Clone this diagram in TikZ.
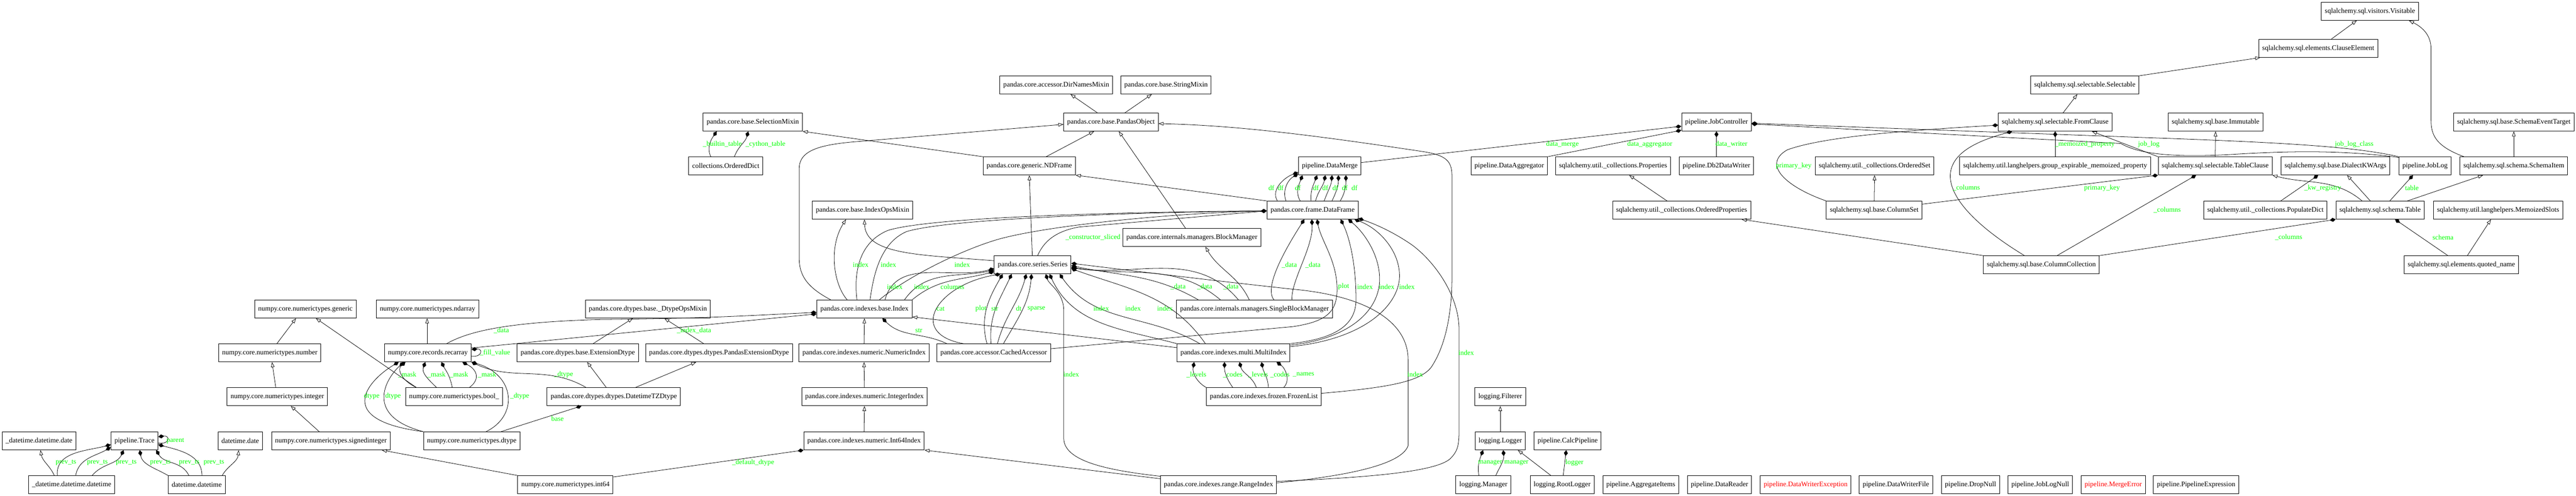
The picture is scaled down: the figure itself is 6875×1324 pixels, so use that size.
\documentclass[tikz,border=0pt]{standalone}
\usepackage{fontspec}
\setmainfont{Liberation Serif}
\usetikzlibrary{arrows.meta}
\definecolor{lblgreen}{RGB}{0,255,0}
\definecolor{errred}{RGB}{255,0,0}
\tikzset{
  cls/.style={draw=black, line width=1pt, minimum height=36pt, inner xsep=7pt, inner ysep=2pt, font=\fontsize{14pt}{16pt}\selectfont},
  errcls/.style={cls, text=errred},
  lbl/.style={text=lblgreen, inner sep=0pt, font=\fontsize{14pt}{16pt}\selectfont},
  inh/.style={line width=0.8pt, -{Triangle[open, length=10pt, width=7pt, line width=0.8pt]}},
  comp/.style={line width=0.8pt, -{Diamond[length=12pt, width=8pt]}},
}
\begin{document}
\begin{tikzpicture}[x=0.75pt, y=0.75pt]
\useasboundingbox (0,0) rectangle (6875,-1324);
% ---------------- nodes ----------------
\node[cls] (visitable) at (6325,-30) {sqlalchemy.sql.visitors.Visitable};
\node[cls] (clauseel) at (6187,-129) {sqlalchemy.sql.elements.ClauseElement};
\node[cls] (dirnames) at (2819,-227) {pandas.core.accessor.DirNamesMixin};
\node[cls] (stringmixin) at (3112,-227) {pandas.core.base.StringMixin};
\node[cls] (selectable) at (5564,-227) {sqlalchemy.sql.selectable.Selectable};
\node[cls] (selmixin) at (2009,-326) {pandas.core.base.SelectionMixin};
\node[cls] (pandasobj) at (2965,-326) {pandas.core.base.PandasObject};
\node[cls] (jobctl) at (4581,-326) {pipeline.JobController};
\node[cls] (fromclause) at (5485,-326) {sqlalchemy.sql.selectable.FromClause};
\node[cls] (immutable) at (5913,-326) {sqlalchemy.sql.base.Immutable};
\node[cls] (schemaevt) at (6709,-326) {sqlalchemy.sql.base.SchemaEventTarget};
\node[cls] (odict) at (1937,-443) {collections.OrderedDict};
\node[cls] (ndframe) at (2747,-443) {pandas.core.generic.NDFrame};
\node[cls] (datamerge) at (3549,-443) {pipeline.DataMerge};
\node[cls] (dataagg) at (4028,-443) {pipeline.DataAggregator};
\node[cls] (props) at (4305,-443) {sqlalchemy.util.\_collections.Properties};
\node[cls] (db2) at (4581,-443) {pipeline.Db2DataWriter};
\node[cls] (orderedset) at (5003,-443) {sqlalchemy.util.\_collections.OrderedSet};
\node[cls] (gemp) at (5485,-443) {sqlalchemy.util.langhelpers.group\_expirable\_memoized\_property};
\node[cls] (tableclause) at (5912,-443) {sqlalchemy.sql.selectable.TableClause};
\node[cls] (dialect) at (6233,-443) {sqlalchemy.sql.base.DialectKWArgs};
\node[cls] (joblog) at (6472,-443) {pipeline.JobLog};
\node[cls] (schemaitem) at (6709,-443) {sqlalchemy.sql.schema.SchemaItem};
\node[cls] (indexops) at (2302,-561) {pandas.core.base.IndexOpsMixin};
\node[cls] (dataframe) at (3503,-561) {pandas.core.frame.DataFrame};
\node[cls] (oprops) at (4488,-561) {sqlalchemy.util.\_collections.OrderedProperties};
\node[cls] (columnset) at (5002,-561) {sqlalchemy.sql.base.ColumnSet};
\node[cls] (populate) at (6046,-561) {sqlalchemy.util.\_collections.PopulateDict};
\node[cls] (table) at (6352,-561) {sqlalchemy.sql.schema.Table};
\node[cls] (memslots) at (6667,-561) {sqlalchemy.util.langhelpers.MemoizedSlots};
\node[cls] (blockmgr) at (3181,-634) {pandas.core.internals.managers.BlockManager};
\node[cls] (series) at (2756,-707) {pandas.core.series.Series};
\node[cls] (colcoll) at (5448,-707) {sqlalchemy.sql.base.ColumnCollection};
\node[cls] (quoted) at (6569,-707) {sqlalchemy.sql.elements.quoted\_name};
\node[cls] (generic) at (815,-825) {numpy.core.numerictypes.generic};
\node[cls] (ndarray) at (1141,-825) {numpy.core.numerictypes.ndarray};
\node[cls] (dtypeops) at (1729,-825) {pandas.core.dtypes.base.\_DtypeOpsMixin};
\node[cls] (index) at (2307,-825) {pandas.core.indexes.base.Index};
\node[cls] (sbm) at (3348,-825) {pandas.core.internals.managers.SingleBlockManager};
\node[cls] (number) at (720,-942) {numpy.core.numerictypes.number};
\node[cls] (recarray) at (1142,-942) {numpy.core.records.recarray};
\node[cls] (extdtype) at (1542,-942) {pandas.core.dtypes.base.ExtensionDtype};
\node[cls] (pandasext) at (1919,-942) {pandas.core.dtypes.dtypes.PandasExtensionDtype};
\node[cls] (numindex) at (2306,-942) {pandas.core.indexes.numeric.NumericIndex};
\node[cls] (cached) at (2652,-942) {pandas.core.accessor.CachedAccessor};
\node[cls] (multi) at (3292,-942) {pandas.core.indexes.multi.MultiIndex};
\node[cls] (integer) at (740,-1059) {numpy.core.numerictypes.integer};
\node[cls] (bool) at (1212,-1059) {numpy.core.numerictypes.bool\_};
\node[cls] (dttz) at (1638,-1059) {pandas.core.dtypes.dtypes.DatetimeTZDtype};
\node[cls] (intindex) at (2307,-1059) {pandas.core.indexes.numeric.IntegerIndex};
\node[cls] (frozen) at (3373,-1059) {pandas.core.indexes.frozen.FrozenList};
\node[cls] (filterer) at (4004,-1059) {logging.Filterer};
\node[cls] (dtdateU) at (104,-1177) {\_datetime.datetime.date};
\node[cls] (trace) at (359,-1177) {pipeline.Trace};
\node[cls] (dtdate) at (641,-1177) {datetime.date};
\node[cls] (signed) at (883,-1177) {numpy.core.numerictypes.signedinteger};
\node[cls] (dtype) at (1259,-1177) {numpy.core.numerictypes.dtype};
\node[cls] (int64index) at (2306,-1177) {pandas.core.indexes.numeric.Int64Index};
\node[cls] (logger) at (4004,-1177) {logging.Logger};
\node[cls] (calcpipe) at (4184,-1177) {pipeline.CalcPipeline};
\node[cls] (dtdtU) at (191,-1294) {\_datetime.datetime.datetime};
\node[cls] (dtdt) at (525,-1294) {datetime.datetime};
\node[cls] (int64) at (1509,-1294) {numpy.core.numerictypes.int64};
\node[cls] (rangeindex) at (3252,-1294) {pandas.core.indexes.range.RangeIndex};
\node[cls] (manager) at (3959,-1294) {logging.Manager};
\node[cls] (rootlogger) at (4169,-1294) {logging.RootLogger};
\node[cls] (aggitems) at (4379,-1294) {pipeline.AggregateItems};
\node[cls] (datareader) at (4589,-1294) {pipeline.DataReader};
\node[errcls] (dwexc) at (4819,-1294) {pipeline.DataWriterException};
\node[cls] (dwfile) at (5060,-1294) {pipeline.DataWriterFile};
\node[cls] (dropnull) at (5259,-1294) {pipeline.DropNull};
\node[cls] (joblognull) at (5445,-1294) {pipeline.JobLogNull};
\node[errcls] (mergeerr) at (5640,-1294) {pipeline.MergeError};
\node[cls] (pipeexpr) at (5861,-1294) {pipeline.PipelineExpression};
% ---------------- Trace group ----------------
\draw[inh] ([shift={(-46,0)}]dtdtU.north) to[out=115,in=-80] ([shift={(4,0)}]dtdateU.south);
\draw[comp] ([shift={(-38,0)}]dtdtU.north) to[out=95,in=195] ([shift={(0,-10)}]trace.west);
\draw[comp] ([shift={(11,0)}]dtdtU.north) to[out=80,in=210] ([shift={(0,-17)}]trace.west);
\draw[comp] ([shift={(55,0)}]dtdtU.north) to[out=50,in=-115] ([shift={(-29,0)}]trace.south);
\draw[comp] (dtdt.north west) to[out=150,in=-80] ([shift={(14,0)}]trace.south);
\draw[comp] ([shift={(-21,0)}]dtdt.north) to[out=115,in=-60] ([shift={(58,0)}]trace.south);
\draw[comp] ([shift={(14,0)}]dtdt.north) to[out=90,in=-15] ([shift={(0,-10)}]trace.east);
\draw[inh] ([shift={(68,0)}]dtdt.north) to[out=60,in=-95] ([shift={(-4,0)}]dtdate.south);
\draw[comp] ([shift={(0,-6)}]trace.east) .. controls +(32,-4) and +(32,4) .. ([shift={(0,11)}]trace.east);
% ---------------- numpy ----------------
\draw[inh] ([shift={(19,0)}]number.north) -- ([shift={(-25,0)}]generic.south);
\draw[inh] ([shift={(-4,0)}]integer.north) -- ([shift={(6,0)}]number.south);
\draw[inh] ([shift={(-31,0)}]signed.north) -- ([shift={(36,0)}]integer.south);
\draw[inh] (int64.north west) -- ([shift={(136,0)}]signed.south);
\draw[inh] ([shift={(-101,0)}]bool.north) -- ([shift={(28,0)}]generic.south);
\draw[inh] ([shift={(-2,0)}]recarray.north) -- ([shift={(-1,0)}]ndarray.south);
\draw[comp] ([shift={(0,-9)}]recarray.east) .. controls +(30,-3) and +(30,3) .. ([shift={(0,9)}]recarray.east);
\draw[comp] (dtype.north west) .. controls (880,-1120) and (990,-1010) .. ([shift={(-78,0)}]recarray.south);
\draw[comp] (dtype.north west) .. controls (970,-1110) and (1030,-1010) .. ([shift={(-64,0)}]recarray.south);
\draw[comp] ([shift={(-101,0)}]bool.north) .. controls (1070,-1015) and (1060,-985) .. ([shift={(-60,0)}]recarray.south);
\draw[comp] ([shift={(-47,0)}]bool.north) .. controls (1140,-1010) and (1125,-995) .. ([shift={(-7,0)}]recarray.south);
\draw[comp] ([shift={(-5,0)}]bool.north) .. controls (1200,-1000) and (1190,-990) .. ([shift={(36,0)}]recarray.south);
\draw[comp] ([shift={(41,0)}]bool.north) .. controls (1285,-1010) and (1270,-985) .. ([shift={(92,0)}]recarray.south);
\draw[comp] ([shift={(38,0)}]dtype.north) .. controls (1385,-1110) and (1375,-1000) .. (recarray.south east);
\draw[comp] ([shift={(-74,0)}]dttz.north) to[out=150,in=-25] (recarray.south east);
\draw[comp] ([shift={(78,0)}]dtype.north) -- ([shift={(-86,0)}]dttz.south);
\draw[inh] ([shift={(41,0)}]extdtype.north) -- ([shift={(-40,0)}]dtypeops.south);
\draw[inh] ([shift={(-41,0)}]pandasext.north) -- ([shift={(44,0)}]dtypeops.south);
\draw[inh] ([shift={(-20,0)}]dttz.north) -- ([shift={(25,0)}]extdtype.south);
\draw[inh] ([shift={(58,0)}]dttz.north) -- ([shift={(-61,0)}]pandasext.south);
\draw[comp] ([shift={(0,-4)}]int64.north east) -- (int64index.south west);
\draw[comp] ([shift={(50,0)}]recarray.north) .. controls (1250,-885) and (1350,-860) .. (1600,-853) .. controls (1900,-850) and (2000,-842) .. ([shift={(0,-9)}]index.west);
\draw[comp] ([shift={(0,13)}]recarray.east) -- ([shift={(0,-13)}]index.west);
\draw[comp] ([shift={(-125,0)}]cached.north) to[out=155,in=-45] ([shift={(48,0)}]index.south);
% ---------------- index chain ----------------
\draw[inh] (numindex.north) -- (index.south);
\draw[inh] (intindex.north) -- (numindex.south);
\draw[inh] (int64index.north) -- (intindex.south);
\draw[inh] ([shift={(0,16)}]rangeindex.west) -- (int64index.south east);
\draw[inh] ([shift={(0,14)}]multi.west) -- ([shift={(0,-21)}]index.east);
\draw[inh] ([shift={(-90,0)}]index.north) .. controls (2160,-770) and (2133,-740) .. (2133,-690) -- (2133,-450) .. controls (2133,-400) and (2190,-385) .. (2300,-377) -- ([shift={(0,-6)}]pandasobj.west);
\draw[inh] ([shift={(-46,0)}]index.north) .. controls (2225,-760) and (2210,-660) .. ([shift={(-44,0)}]indexops.south);
\draw[inh] ([shift={(0,11)}]series.west) .. controls (2450,-680) and (2310,-680) .. ([shift={(5,0)}]indexops.south);
\draw[inh] ([shift={(-1,0)}]series.north) -- (ndframe.south);
\draw[inh] (dataframe.north west) -- (ndframe.south east);
\draw[inh] ([shift={(45,0)}]ndframe.north) -- ([shift={(-45,0)}]pandasobj.south);
\draw[inh] (ndframe.north west) -- (selmixin.south east);
\draw[inh] ([shift={(-36,0)}]pandasobj.north) -- ([shift={(38,0)}]dirnames.south);
\draw[inh] ([shift={(37,0)}]pandasobj.north) -- ([shift={(-38,0)}]stringmixin.south);
\draw[comp] ([shift={(-40,0)}]odict.north) to[out=115,in=-125] ([shift={(-96,0)}]selmixin.south);
\draw[comp] ([shift={(23,0)}]odict.north) to[out=70,in=-105] ([shift={(-12,0)}]selmixin.south);
\draw[inh] ([shift={(-17,0)}]blockmgr.north) -- ([shift={(21,0)}]pandasobj.south);
\draw[inh] ([shift={(-14,0)}]sbm.north) to[out=115,in=-60] ([shift={(36,0)}]blockmgr.south);
\draw[inh] ([shift={(0,9)}]frozen.east) .. controls (3700,-1035) and (3790,-1020) .. (3820,-980) .. controls (3860,-920) and (3875,-830) .. (3875,-740) -- (3875,-470) .. controls (3875,-430) and (3860,-415) .. (3800,-405) .. controls (3500,-360) and (3300,-335) .. ([shift={(0,-4)}]pandasobj.east);
% ---------------- Series / DataFrame ----------------
\draw[comp] ([shift={(13,0)}]series.north) .. controls (2780,-660) and (2800,-620) .. (2880,-606) -- ([shift={(0,-2)}]dataframe.west);
\draw[comp] ([shift={(-20,0)}]index.north) .. controls (2280,-740) and (2285,-650) .. (2370,-615) .. controls (2500,-575) and (3100,-565) .. ([shift={(0,-2)}]dataframe.west);
\draw[comp] ([shift={(15,0)}]index.north) .. controls (2330,-745) and (2345,-650) .. (2420,-618) .. controls (2550,-580) and (3100,-566) .. ([shift={(0,-2)}]dataframe.west);
\draw[comp] ([shift={(40,0)}]index.north) .. controls (2420,-740) and (2560,-670) .. (2660,-640) .. controls (2780,-605) and (3100,-570) .. ([shift={(0,-2)}]dataframe.west);
\draw[comp] ([shift={(55,0)}]index.north) to[out=75,in=195] ([shift={(0,-10)}]series.west);
\draw[comp] ([shift={(107,0)}]index.north) to[out=55,in=192] ([shift={(0,-14)}]series.west);
\draw[comp] (index.north east) to[out=40,in=195] ([shift={(0,-18)}]series.west);
\draw[comp] ([shift={(-81,0)}]cached.north) .. controls (2420,-890) and (2500,-760) .. ([shift={(-86,0)}]series.south);
\draw[comp] ([shift={(-18,0)}]cached.north) to[out=105,in=-120] ([shift={(-80,0)}]series.south);
\draw[comp] ([shift={(-7,0)}]cached.north) to[out=95,in=-115] ([shift={(-56,0)}]series.south);
\draw[comp] ([shift={(10,0)}]cached.north) to[out=75,in=-105] ([shift={(-17,0)}]series.south);
\draw[comp] ([shift={(26,0)}]cached.north) to[out=60,in=-95] ([shift={(-3,0)}]series.south);
\draw[comp] (multi.north west) to[out=165,in=-65] ([shift={(45,0)}]series.south);
\draw[comp] ([shift={(-90,0)}]multi.north) to[out=150,in=-55] ([shift={(72,0)}]series.south);
\draw[comp] ([shift={(-75,0)}]multi.north) to[out=125,in=-20] ([shift={(0,-10)}]series.east);
\draw[comp] ([shift={(-150,0)}]sbm.north) to[out=150,in=-12] ([shift={(0,-2)}]series.east);
\draw[comp] ([shift={(-91,0)}]sbm.north) to[out=140,in=-10] ([shift={(0,-6)}]series.east);
\draw[comp] ([shift={(-43,0)}]sbm.north) to[out=130,in=-8] ([shift={(0,-8)}]series.east);
\draw[comp] ([shift={(52,0)}]sbm.north) .. controls (3370,-765) and (3440,-650) .. ([shift={(-22,0)}]dataframe.south);
\draw[comp] ([shift={(100,0)}]sbm.north) .. controls (3445,-750) and (3505,-660) .. ([shift={(-2,0)}]dataframe.south);
\draw[comp] ([shift={(0,11)}]cached.east) -- (3450,-872) .. controls (3545,-858) and (3572,-830) .. (3568,-760) .. controls (3564,-690) and (3525,-640) .. ([shift={(12,0)}]dataframe.south);
\draw[comp] (multi.north east) .. controls (3560,-905) and (3619,-870) .. (3619,-800) .. controls (3619,-700) and (3600,-630) .. ([shift={(75,0)}]dataframe.south);
\draw[comp] ([shift={(0,-4)}]multi.north east) .. controls (3600,-905) and (3682,-830) .. (3682,-745) .. controls (3682,-680) and (3640,-620) .. ([shift={(95,0)}]dataframe.south);
\draw[comp] ([shift={(0,-8)}]multi.north east) .. controls (3650,-905) and (3733,-810) .. (3735,-740) .. controls (3737,-670) and (3680,-610) .. ([shift={(112,0)}]dataframe.south);
\draw[comp] ([shift={(0,9)}]rangeindex.east) .. controls (3650,-1275) and (3830,-1260) .. (3870,-1225) .. controls (3890,-1205) and (3894,-1190) .. (3894,-1150) -- (3894,-880) .. controls (3894,-790) and (3830,-700) .. (3770,-655) .. controls (3720,-620) and (3670,-598) .. ([shift={(0,-22)}]dataframe.east);
\draw[comp] ([shift={(0,5)}]rangeindex.east) .. controls (3600,-1270) and (3740,-1240) .. (3758,-1190) -- (3758,-960) .. controls (3758,-860) and (3650,-790) .. (3450,-772) .. controls (3200,-745) and (3000,-720) .. ([shift={(0,4)}]series.east);
\draw[comp] ([shift={(0,-2)}]rangeindex.north west) .. controls (2950,-1255) and (2839,-1230) .. (2839,-1170) -- (2839,-830) .. controls (2839,-780) and (2800,-760) .. ([shift={(35,0)}]series.south);
\draw[comp] (frozen.north west) to[out=150,in=-100] ([shift={(-105,0)}]multi.south);
\draw[comp] ([shift={(-83,0)}]frozen.north) to[out=125,in=-90] ([shift={(-24,0)}]multi.south);
\draw[comp] ([shift={(-20,0)}]frozen.north) to[out=110,in=-75] ([shift={(16,0)}]multi.south);
\draw[comp] ([shift={(12,0)}]frozen.north) to[out=92,in=-80] ([shift={(75,0)}]multi.south);
\draw[comp] ([shift={(53,0)}]frozen.north) to[out=45,in=-35] ([shift={(115,0)}]multi.south);
% DataFrame -> DataMerge
\draw[comp] ([shift={(-94,0)}]dataframe.north) to[out=120,in=200] ([shift={(0,-17)}]datamerge.west);
\draw[comp] ([shift={(-71,0)}]dataframe.north) to[out=110,in=210] ([shift={(0,-21)}]datamerge.west);
\draw[comp] ([shift={(-33,0)}]dataframe.north) to[out=120,in=-110] ([shift={(-73,0)}]datamerge.south);
\draw[comp] ([shift={(-4,0)}]dataframe.north) to[out=95,in=-110] ([shift={(-34,0)}]datamerge.south);
\draw[comp] ([shift={(8,0)}]dataframe.north) to[out=75,in=-100] ([shift={(-12,0)}]datamerge.south);
\draw[comp] ([shift={(31,0)}]dataframe.north) to[out=70,in=-95] ([shift={(6,0)}]datamerge.south);
\draw[comp] ([shift={(52,0)}]dataframe.north) to[out=65,in=-90] ([shift={(23,0)}]datamerge.south);
\draw[comp] ([shift={(74,0)}]dataframe.north) to[out=60,in=-90] ([shift={(43,0)}]datamerge.south);
% ---------------- pipeline / sqlalchemy ----------------
\draw[comp] ([shift={(0,9)}]datamerge.east) -- ([shift={(0,-11)}]jobctl.west);
\draw[comp] (dataagg.north east) -- ([shift={(0,3)}]jobctl.south west);
\draw[comp] (db2.north) -- (jobctl.south);
\draw[inh] ([shift={(-39,0)}]oprops.north) -- ([shift={(43,0)}]props.south);
\draw[comp] (joblog.north west) .. controls (6300,-395) and (6150,-383) .. (5800,-370) -- ([shift={(0,-3)}]jobctl.east);
\draw[comp] ([shift={(0,-2)}]joblog.north west) .. controls (6250,-400) and (6100,-403) .. (5945,-413) .. controls (5800,-420) and (5710,-412) .. (5660,-383) -- ([shift={(0,-5)}]jobctl.east);
\draw[inh] ([shift={(21,0)}]fromclause.north) -- ([shift={(-20,0)}]selectable.south);
\draw[inh] (selectable.north east) -- ([shift={(5,0)}]clauseel.south west);
\draw[inh] ([shift={(35,0)}]clauseel.north) -- ([shift={(-35,0)}]visitable.south);
\draw[comp] (gemp.north) -- (fromclause.south);
\draw[comp] (columnset.north west) .. controls (4770,-500) and (4700,-440) .. (4770,-400) .. controls (4880,-360) and (5150,-345) .. ([shift={(0,-8)}]fromclause.west);
\draw[inh] (columnset.north) -- (orderedset.south);
\draw[comp] ([shift={(0,16)}]columnset.east) -- (tableclause.south west);
\draw[comp] ([shift={(-45,0)}]colcoll.north) .. controls (5300,-620) and (5205,-540) .. (5205,-470) .. controls (5205,-400) and (5300,-370) .. ([shift={(-115,0)}]fromclause.south);
\draw[comp] ([shift={(42,0)}]colcoll.north) -- ([shift={(-51,0)}]tableclause.south);
\draw[comp] (colcoll.north east) -- (table.south west);
\draw[inh] (colcoll.north west) -- ([shift={(160,0)}]oprops.south);
\draw[inh] (tableclause.north west) -- ([shift={(98,0)}]fromclause.south);
\draw[comp] ([shift={(41,0)}]populate.north) -- ([shift={(-46,0)}]dialect.south);
\draw[inh] ([shift={(-48,0)}]table.north) to[out=140,in=-15] (tableclause.south east);
\draw[inh] ([shift={(-26,0)}]table.north) -- ([shift={(31,0)}]dialect.south);
\draw[comp] ([shift={(26,0)}]table.north) -- ([shift={(-32,0)}]joblog.south);
\draw[inh] ([shift={(73,0)}]table.north) -- ([shift={(-82,0)}]schemaitem.south);
\draw[inh] (tableclause.north) -- (immutable.south);
\draw[inh] (schemaitem.north) -- (schemaevt.south);
\draw[inh] ([shift={(-133,0)}]schemaitem.north) .. controls (6500,-390) and (6488,-360) .. (6488,-320) -- (6488,-130) .. controls (6488,-90) and (6460,-70) .. ([shift={(104,0)}]visitable.south);
\draw[inh] ([shift={(16,0)}]quoted.north) -- ([shift={(-19,0)}]memslots.south);
\draw[comp] ([shift={(-36,0)}]quoted.north) -- ([shift={(40,0)}]table.south);
% ---------------- logging ----------------
\draw[inh] (logger.north) -- (filterer.south);
\draw[comp] ([shift={(-12,0)}]manager.north) to[out=100,in=-110] ([shift={(-46,0)}]logger.south);
\draw[comp] ([shift={(33,0)}]manager.north) to[out=65,in=-85] ([shift={(8,0)}]logger.south);
\draw[inh] ([shift={(-30,0)}]rootlogger.north) -- ([shift={(47,0)}]logger.south);
\draw[comp] ([shift={(3,0)}]rootlogger.north) -- ([shift={(-4,0)}]calcpipe.south);
% ---------------- labels ----------------
\node[lbl] (lA1) at (468,-1177) {parent};
\node[lbl] (lA2) at (176,-1235) {prev\_ts};
\node[lbl] (lA3) at (260,-1235) {prev\_ts};
\node[lbl] (lA4) at (337,-1235) {prev\_ts};
\node[lbl] (lA5) at (428,-1235) {prev\_ts};
\node[lbl] (lA6) at (505,-1235) {prev\_ts};
\node[lbl] (lA7) at (571,-1235) {prev\_ts};
\node[lbl] (lB1) at (992,-1058) {dtype};
\node[lbl] (lB2) at (1049,-1058) {dtype};
\node[lbl] (lB3) at (1387,-1058) {\_dtype};
\node[lbl] (lB4) at (1087,-1000) {\_mask};
\node[lbl] (lB5) at (1165,-1000) {\_mask};
\node[lbl] (lB6) at (1225,-1000) {\_mask};
\node[lbl] (lB7) at (1300,-1000) {\_mask};
\node[lbl] (lB8) at (1504,-1000) {\_dtype};
\node[lbl] (lB9) at (1321,-941) {\_fill\_value};
\node[lbl] (lB10) at (1488,-1117) {base};
\node[lbl] (lB11) at (1338,-882) {\_data};
\node[lbl] (lB12) at (1852,-882) {\_index\_data};
\node[lbl] (lB13) at (2010,-1235) {\_default\_dtype};
\node[lbl] (lC1) at (1928,-385) {\_builtin\_table};
\node[lbl] (lC2) at (2043,-385) {\_cython\_table};
\node[lbl] (lC3) at (2917,-634) {\_constructor\_sliced};
\node[lbl] (lD1) at (2297,-707) {index};
\node[lbl] (lD2) at (2371,-707) {index};
\node[lbl] (lD3) at (2568,-707) {index};
\node[lbl] (lD4) at (3441,-707) {\_data};
\node[lbl] (lD5) at (3504,-707) {\_data};
\node[lbl] (lE1) at (2388,-765) {index};
\node[lbl] (lE2) at (2460,-765) {index};
\node[lbl] (lE3) at (2542,-765) {columns};
\node[lbl] (lE4) at (3144,-765) {\_data};
\node[lbl] (lE5) at (3215,-765) {\_data};
\node[lbl] (lE6) at (3285,-765) {\_data};
\node[lbl] (lE7) at (3586,-765) {plot};
\node[lbl] (lE8) at (3643,-765) {index};
\node[lbl] (lE9) at (3701,-765) {index};
\node[lbl] (lE10) at (3755,-765) {index};
\node[lbl] (lF1) at (2510,-824) {cat};
\node[lbl] (lF2) at (2618,-824) {plot};
\node[lbl] (lF3) at (2655,-824) {str};
\node[lbl] (lF4) at (2719,-824) {dt};
\node[lbl] (lF5) at (2766,-824) {sparse};
\node[lbl] (lF6) at (2939,-824) {index};
\node[lbl] (lF7) at (3024,-824) {index};
\node[lbl] (lF8) at (3109,-824) {index};
\node[lbl] (lG1) at (2452,-882) {str};
\node[lbl] (lG2) at (3913,-941) {index};
\node[lbl] (lG3) at (2859,-1000) {index};
\node[lbl] (lG4) at (3193,-1000) {\_levels};
\node[lbl] (lG5) at (3290,-1000) {\_codes};
\node[lbl] (lG6) at (3358,-1000) {\_levels};
\node[lbl] (lG7) at (3416,-1000) {\_codes};
\node[lbl] (lG8) at (3479,-1000) {\_names};
\node[lbl] (lG9) at (3777,-1000) {index};
\node[lbl] (lH1) at (3393,-501) {df};
\node[lbl] (lH2) at (3418,-501) {df};
\node[lbl] (lH3) at (3464,-501) {df};
\node[lbl] (lH4) at (3512,-501) {df};
\node[lbl] (lH5) at (3537,-501) {df};
\node[lbl] (lH6) at (3564,-501) {df};
\node[lbl] (lH7) at (3589,-501) {df};
\node[lbl] (lH8) at (3615,-501) {df};
\node[lbl] (lI1) at (4170,-385) {data\_merge};
\node[lbl] (lI2) at (4403,-385) {data\_aggregator};
\node[lbl] (lI3) at (4621,-385) {data\_writer};
\node[lbl] (lI4) at (4787,-443) {primary\_key};
\node[lbl] (lI5) at (5564,-385) {\_memoized\_property};
\node[lbl] (lI6) at (5735,-385) {job\_log};
\node[lbl] (lI7) at (6283,-385) {job\_log\_class};
\node[lbl] (lI8) at (5248,-502) {\_columns};
\node[lbl] (lI9) at (5610,-502) {primary\_key};
\node[lbl] (lI10) at (6199,-502) {\_kw\_registry};
\node[lbl] (lI11) at (6437,-502) {table};
\node[lbl] (lI12) at (5784,-561) {\_columns};
\node[lbl] (lI13) at (6108,-633) {\_columns};
\node[lbl] (lI14) at (6520,-633) {schema};
\node[lbl] (lJ1) at (3977,-1235) {manager};
\node[lbl] (lJ2) at (4047,-1235) {manager};
\node[lbl] (lJ3) at (4202,-1235) {logger};
\end{tikzpicture}
\end{document}
